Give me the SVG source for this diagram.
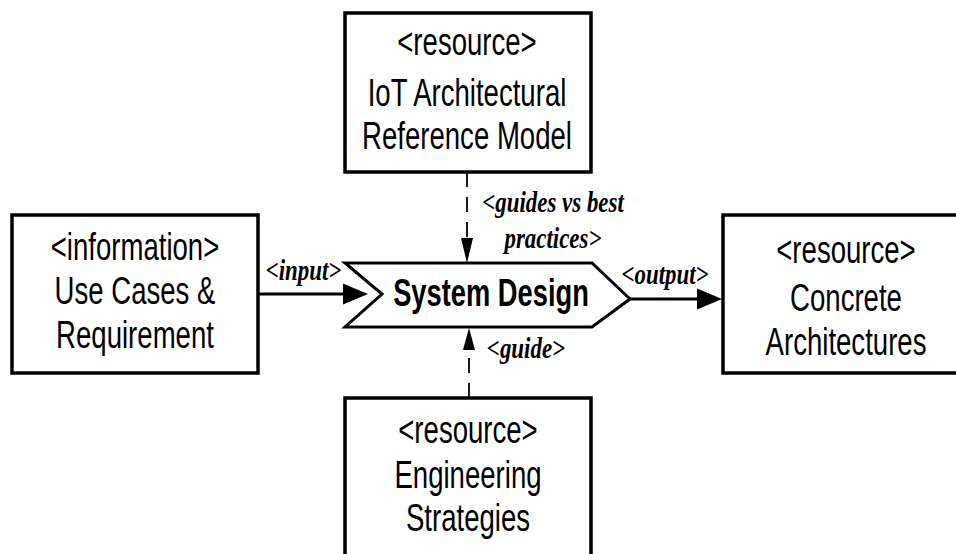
<svg xmlns="http://www.w3.org/2000/svg" width="956" height="554" viewBox="0 0 956 554">
<style>
.box{fill:#fff;stroke:#000;stroke-width:3.5}
.bt{font-family:"Liberation Sans",Arial,sans-serif;font-size:39px;fill:#000;text-anchor:middle}
.st{font-family:"Liberation Sans",Arial,sans-serif;font-size:39px;font-weight:bold;fill:#000;text-anchor:middle}
.lb{font-family:"Liberation Serif","Times New Roman",serif;font-size:29px;font-weight:bold;font-style:italic;fill:#000;text-anchor:middle}
.solid{stroke:#000;stroke-width:3;fill:none}
.dash{stroke:#000;stroke-width:1.8;fill:none;stroke-dasharray:15 10}
.head{fill:#000;stroke:none}
</style>
<rect width="956" height="554" fill="#fff"/>
<g id="connectors">
<line class="solid" x1="258" y1="294" x2="346" y2="294"/>
<polygon class="head" points="368,294 343,283.5 343,304.5"/>
<line class="solid" x1="630" y1="299" x2="700" y2="299"/>
<polygon class="head" points="722,299 697,288.5 697,309.5"/>
<line class="dash" x1="467" y1="172" x2="467" y2="240"/>
<polygon class="head" points="467,263 461,238 473,238"/>
<line class="dash" x1="469" y1="398" x2="469" y2="347"/>
<polygon class="head" points="469,328 463,350 475,350"/>
<text class="lb" transform="translate(303.5,280) scale(0.79,1)">&lt;input&gt;</text>
<text class="lb" transform="translate(665,284) scale(0.79,1)">&lt;output&gt;</text>
<text class="lb" transform="translate(553,212) scale(0.79,1)">&lt;guides vs best</text>
<text class="lb" transform="translate(553,248) scale(0.79,1)">practices&gt;</text>
<text class="lb" transform="translate(526,358) scale(0.79,1)">&lt;guide&gt;</text>
</g>
<g id="system-design">
<path d="M345,263 L592,263 L630,299 L592,327 L345,327 L382,294 Z" fill="#fff" stroke="#000" stroke-width="3" stroke-linejoin="miter"/>
<text class="st" transform="translate(491,306) scale(0.70,1)">System Design</text>
</g>
<g id="iot-reference-model">
<rect class="box" x="345" y="13" width="246" height="159"/>
<text class="bt" transform="translate(467,55) scale(0.707,1)">&lt;resource&gt;</text>
<text class="bt" transform="translate(467,106) scale(0.707,1)">IoT Architectural</text>
<text class="bt" transform="translate(467,149) scale(0.707,1)">Reference Model</text>
</g>
<g id="use-cases">
<rect class="box" x="12" y="215" width="246" height="158"/>
<text class="bt" transform="translate(135,260) scale(0.707,1)">&lt;information&gt;</text>
<text class="bt" transform="translate(135,304) scale(0.707,1)">Use Cases &amp;</text>
<text class="bt" transform="translate(135,348) scale(0.707,1)">Requirement</text>
</g>
<g id="concrete-architectures">
<rect class="box" x="723" y="215" width="246" height="158"/>
<text class="bt" transform="translate(846,263) scale(0.707,1)">&lt;resource&gt;</text>
<text class="bt" transform="translate(846,311) scale(0.707,1)">Concrete</text>
<text class="bt" transform="translate(846,355) scale(0.707,1)">Architectures</text>
</g>
<g id="engineering-strategies">
<rect class="box" x="345" y="398" width="246" height="160"/>
<text class="bt" transform="translate(468,443) scale(0.707,1)">&lt;resource&gt;</text>
<text class="bt" transform="translate(468,488) scale(0.707,1)">Engineering</text>
<text class="bt" transform="translate(468,531) scale(0.707,1)">Strategies</text>
</g>
</svg>
